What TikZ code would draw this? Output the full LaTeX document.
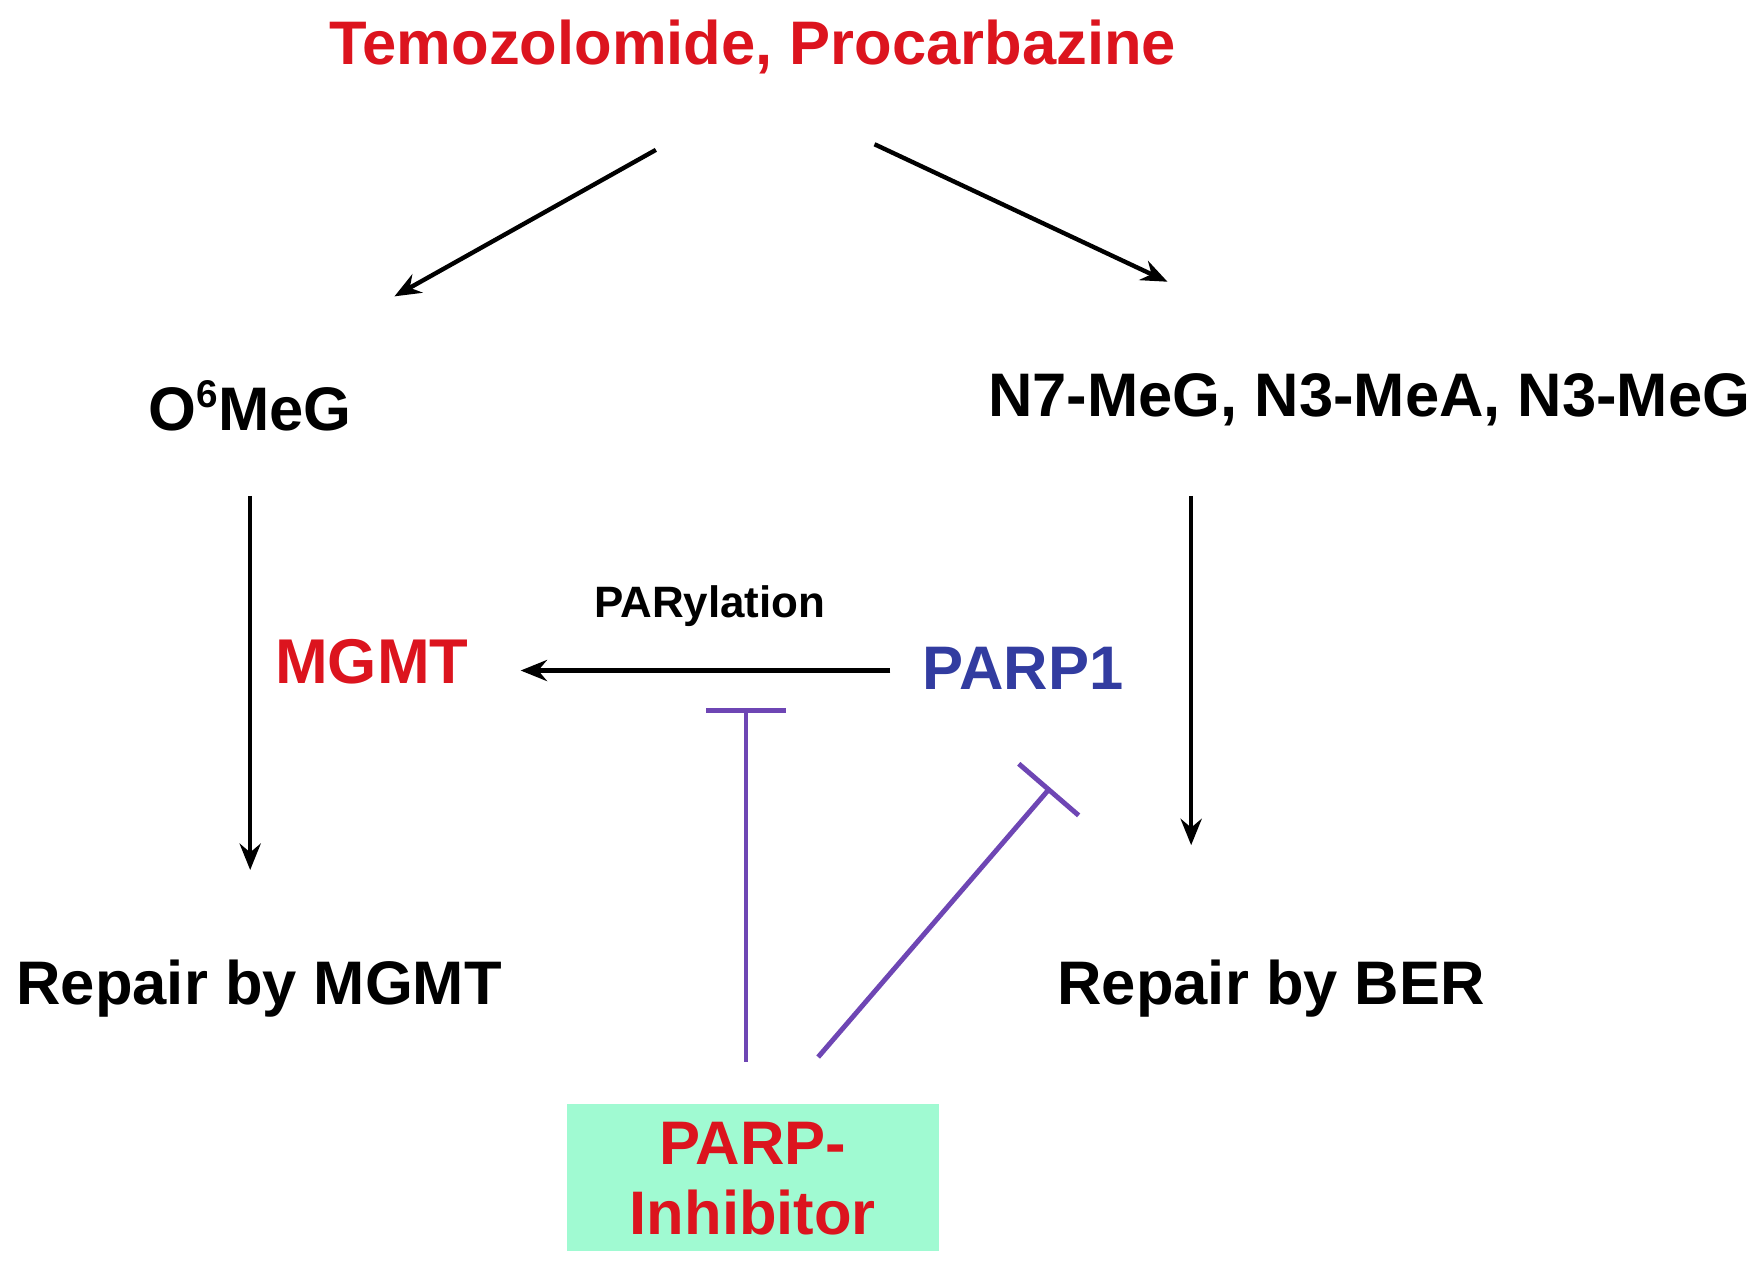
\documentclass[tikz,border=0pt]{standalone}
\usepackage{fontspec}
\setmainfont{Liberation Sans}
\usetikzlibrary{arrows.meta}
\definecolor{dred}{RGB}{220,20,30}
\definecolor{dblue}{RGB}{50,60,160}
\definecolor{inh}{RGB}{110,70,180}
\definecolor{mint}{RGB}{160,250,210}
\begin{document}
\begin{tikzpicture}[x=0.02254cm,y=-0.02254cm,
  lab/.style={font=\bfseries\fontsize{35}{40}\selectfont,inner sep=0pt},
  arr/.style={line width=2.5pt,-{Stealth[length=15pt,width=12pt,inset=5pt]}},
  inhib/.style={line width=2.8pt,draw=inh,-{Bar[width=45pt,line width=2.8pt]}}]
\useasboundingbox (0,0) rectangle (1560,1121.6);
\node[lab,text=dred,font=\bfseries\fontsize{35}{40}\selectfont] (title) at (668,42) {Temozolomide, Procarbazine};
\node[lab] (o6) at (222,360) {O{\fontsize{22}{24}\selectfont\raisebox{1.1ex}{6}}MeG};
\node[lab] (n7) at (1215,355) {N7-MeG, N3-MeA, N3-MeG};
\node[lab] (rm) at (230,877) {Repair by MGMT};
\node[lab] (rb) at (1128,877) {Repair by BER};
\node[lab,text=dred,font=\bfseries\fontsize{36}{40}\selectfont] (mgmt) at (330,587) {MGMT};
\node[lab,text=dblue,font=\bfseries\fontsize{35}{40}\selectfont] (parp) at (908,593) {PARP1};
\node[lab,font=\bfseries\fontsize{25}{30}\selectfont] (pary) at (630,538) {PARylation};
\node[fill=mint,minimum width=7.44cm,minimum height=2.93cm,inner sep=0pt] (box) at (668,1045) {};
\node[lab,text=dred,align=center,font=\bfseries\fontsize{35}{40}\selectfont] (pi) at (668,1046) {PARP-\\Inhibitor};
\coordinate (a1) at (582,133); \coordinate (b1) at (350,263);
\coordinate (a2) at (776,128); \coordinate (b2) at (1036,250);
\coordinate (a3) at (222,440); \coordinate (b3) at (222,772);
\coordinate (a4) at (1057,440); \coordinate (b4) at (1057,750);
\coordinate (a5) at (790,595); \coordinate (b5) at (462,595);
\coordinate (i1) at (662,942); \coordinate (j1) at (662,628);
\coordinate (i2) at (726,938); \coordinate (j2) at (932,699);
\draw[arr] (a1) -- (b1);
\draw[arr] (a2) -- (b2);
\draw[arr] (a3) -- (b3);
\draw[arr] (a4) -- (b4);
\draw[arr] (a5) -- (b5);
\draw[inhib] (i1) -- (j1);
\draw[inhib] (i2) -- (j2);
\end{tikzpicture}
\end{document}
